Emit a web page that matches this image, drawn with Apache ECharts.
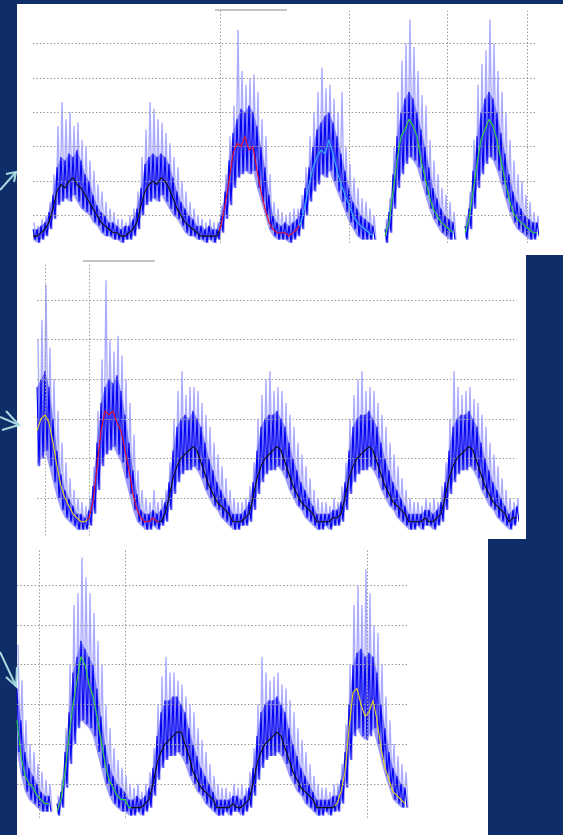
<!DOCTYPE html>
<html>
<head>
<meta charset="utf-8">
<script src="https://cdn.jsdelivr.net/npm/echarts@6/dist/echarts.min.js"></script>
<style>
html,body{margin:0;padding:0;background:#0f2d69;}
#c{width:563px;height:835px;}
</style>
</head>
<body>
<div id="c"></div>
<script>
// ---- Panel 1 (six daily cycles) ----
const p1Top = [6,6,7,8,11,16,24,27,26,28, 27,29,26,22,20,16,13,11,10,8, 8,7,6,7,7,9,12,18,25,27,
  28,27,28,27,25,21,17,14,12,10, 9,7,7,6,7,6,6,10,17,26, 34,38,41,40,42,40,36,30,24,16,
  10,8,7,8,7,8,9,12,18,24, 30,35,37,39,40,37,33,28,23,18, 14,12,10,9,8,7,null,null,6,11,
  22,33,40,44,46,44,40,35,30,24, 18,15,12,10,9,8,null,null,7,12, 23,33,40,44,46,44,40,34,28,22,
  17,14,12,10,9,8,8];
const p1Bot = [3,2,3,4,6,9,13,14,15,14, 16,14,12,11,10,8,7,5,4,4, 3,3,2,3,3,4,6,10,13,14,
  15,14,16,14,12,10,9,7,5,4, 4,3,3,2,3,2,3,5,9,13, 18,21,22,23,22,23,18,14,10,6,
  4,3,3,3,2,3,4,6,10,14, 17,19,22,21,23,20,17,14,11,8, 6,4,3,3,3,3,null,null,2,5,
  12,18,22,25,27,26,24,20,16,12, 9,7,5,4,3,3,null,null,3,6, 12,18,22,25,27,26,23,19,15,11,
  8,6,5,4,3,3,4];
const p1Spike = [8,7,9,10,14,22,36,43,38,40, 36,37,32,30,26,23,19,17,14,12, 11,9,9,8,10,12,17,27,35,43,
  41,38,37,34,31,27,24,20,17,14, 12,10,9,8,9,8,8,13,22,33, 42,64,52,48,50,51,46,38,33,22,
  14,12,11,10,11,12,12,16,24,33, 40,46,53,47,48,44,40,46,30,25, 21,18,15,14,12,10,null,null,9,15,
  30,46,55,60,67,59,52,45,42,32, 26,22,18,16,14,11,null,null,10,17, 32,48,54,58,67,60,52,46,40,32,
  26,22,20,16,14,11,10];
const p1Mean = [4,4,5,6,8,12,17,19,18,20, 21,19,18,16,14,12,10,8,7,6, 5,5,4,4,5,6,8,13,17,19,
  20,19,21,20,18,15,12,10,8,7, 6,5,4,4,4,4,4,7,13,20, 28,31,30,33,29,30,23,17,12,8,
  6,5,5,5,4,5,6,8,13,19, 24,27,29,28,32,28,23,19,16,13, 10,8,7,6,5,4,null,null,4,8,
  17,26,33,35,38,36,33,26,21,16, 12,10,8,7,6,5,null,null,5,9, 17,25,32,35,38,36,32,26,20,15,
  11,9,8,7,6,5,5];

// ---- Panel 2 ----
const p2Top = [38,40,42,38,30,22,16,12,10,8, 6,6,5,7,13,24,34,38,40,39, 41,37,31,24,17,11,7,6,6,7,
  6,7,9,14,22,28,30,31,30,32, 30,28,24,20,17,14,12,10,8,6, 6,6,7,9,14,22,28,30,31,31,
  32,30,28,24,20,17,14,12,10,8, 6,6,6,6,7,7,9,14,22,28, 30,31,31,32,30,28,24,20,17,14,
  12,10,8,6,6,6,6,7,7,6, 7,9,14,22,28,30,31,31,32,30, 28,24,20,17,14,12,10,8,6,7,8];
const p2Bot = [18,20,22,18,14,10,7,5,4,3, 2,2,2,3,6,12,18,21,22,23, 21,19,15,11,7,4,3,2,2,3,
  2,3,4,7,11,14,16,17,17,18, 17,15,12,10,8,7,5,4,3,2, 2,3,3,4,7,11,14,16,17,17,
  18,17,15,12,10,8,7,5,4,3, 2,2,3,2,3,3,4,7,11,14, 16,17,17,18,17,15,12,10,8,7,
  5,4,3,2,2,3,2,3,3,2, 3,4,7,11,14,16,17,17,18,17, 15,12,10,8,7,5,4,3,2,3,4];
const p2Spike = [50,55,64,48,40,32,24,19,15,12, 10,9,8,10,18,32,45,65,50,47, 51,46,40,34,26,17,12,10,9,12,
  9,10,12,19,30,37,42,36,38,38, 37,34,31,28,24,21,18,15,12,10, 9,9,10,13,19,30,36,40,42,37,
  38,37,34,31,28,24,21,18,15,12, 10,9,9,8,10,9,13,19,30,36, 40,42,37,38,37,34,31,28,24,21,
  18,15,12,10,9,9,8,10,9,10, 9,13,19,30,42,38,36,37,38,35, 34,31,28,24,21,18,15,12,10,9,10];
const p2Mean = [27,30,31,29,24,18,13,10,8,6, 5,4,4,5,9,18,27,32,31,32, 29,27,22,17,11,7,5,4,4,5,
  4,4,6,10,15,18,20,21,22,23, 22,19,16,13,11,9,8,7,6,4, 4,4,5,6,10,15,18,20,21,22,
  23,22,19,16,13,11,9,8,7,6, 4,4,4,4,5,5,6,10,15,18, 20,21,22,23,22,19,16,13,11,9,
  8,7,6,4,4,4,4,5,4,4, 5,6,10,15,18,20,21,22,23,22, 19,16,13,11,9,8,7,6,4,5,5];

// ---- Panel 3 ----
const p3Top = [34,26,18,14,12,10,8,7,7,null, 5,8,18,28,38,42,46,44,42,40, 34,27,20,15,12,10,9,8,6,6,
  7,6,7,9,14,22,28,31,31,32, 32,30,28,24,20,17,14,12,10,8, 6,6,6,6,7,7,6,7,9,14,
  22,28,30,31,31,32,30,28,24,20, 17,14,12,10,8,6,6,6,6,7, 7,11,18,30,40,43,44,42,43,42,
  38,30,24,18,14,12,10,9];
const p3Bot = [18,12,8,6,5,4,3,3,3,null, 2,4,9,15,20,24,26,25,24,22, 18,14,10,7,5,4,3,3,2,2,
  3,2,3,4,7,11,14,16,17,17, 18,17,15,12,10,8,7,5,4,3, 2,2,3,2,3,3,2,3,4,7,
  11,14,16,17,17,18,17,15,12,10, 8,7,5,4,3,2,2,3,2,3, 3,5,9,16,22,24,22,21,22,24,
  20,16,12,9,6,5,4,4];
const p3Spike = [45,36,26,20,18,15,13,11,10,null, 7,11,24,40,55,58,67,62,58,53, 46,40,30,24,19,16,14,12,10,9,
  10,8,10,13,19,30,37,42,38,38, 36,35,32,30,28,24,21,18,15,12, 10,9,9,8,10,9,10,9,13,19,
  30,42,38,36,37,38,35,34,31,28, 24,21,18,15,12,10,9,9,8,10, 10,15,25,40,55,60,55,64,58,50,
  48,40,32,26,20,17,15,13];
const p3Mean = [26,17,12,10,9,7,6,5,5,null, 3,6,13,22,30,36,42,40,35,32, 27,21,15,11,9,7,6,6,4,4,
  4,4,5,6,10,15,18,20,21,22, 23,23,20,17,13,11,9,8,7,6, 4,4,4,4,5,4,4,5,6,10,
  15,18,20,21,22,23,22,19,16,13, 11,9,8,7,6,4,4,4,4,4, 5,8,13,24,33,34,30,27,28,31,
  26,19,14,11,8,7,6,5];

const gridValues = [10,20,30,40,50,60];

const BLACK='#111111', RED='#e3102c', CYAN='#33b4ff', GREEN='#2fd43a', YELLOW='#e6d21c';

const panels = [
  {top:p1Top, bot:p1Bot, spk:p1Spike, mean:p1Mean, left:33, gtop:9.1, width:504, height:240.8, xmax:126,
   vlines:[46.75,79,103.5,123.5], vext:[2,69.5], seg:[45.5,63.5],
   pieces:[{lt:46.5,color:BLACK},{gte:46.5,lt:66.5,color:RED},{gte:66.5,lt:87,color:CYAN},{gte:87,color:GREEN}]},
  {top:p2Top, bot:p2Bot, spk:p2Spike, mean:p2Mean, left:37, gtop:260.4, width:480, height:277.2, xmax:120,
   vlines:[2,13], vext:[0.5,69], seg:[11.5,29.5],
   pieces:[{lt:12.5,color:YELLOW},{gte:12.5,lt:30.5,color:RED},{gte:30.5,color:BLACK}]},
  {top:p3Top, bot:p3Bot, spk:p3Spike, mean:p3Mean, left:17, gtop:545.5, width:392, height:278, xmax:98,
   vlines:[5.5,27,87.5], vext:[1.4,69], seg:null,
   pieces:[{lt:28.5,color:GREEN},{gte:28.5,lt:79.5,color:BLACK},{gte:79.5,color:YELLOW}]}
];

const nv = v => (v == null ? '-' : v);
function zig(a, b, off) {
  const out = [];
  a.forEach((v, i) => { out.push([i + off, nv(v)]); out.push([i + off + 0.5, nv(b[i])]); });
  return out;
}
// band quads: [i, bot_i, top_i, bot_i+1, top_i+1]
function quads(top, bot) {
  const out = [];
  for (let i = 0; i < top.length - 1; i++) {
    if (top[i] == null || top[i+1] == null) continue;
    out.push([i, bot[i], top[i], bot[i+1], top[i+1]]);
  }
  return out;
}
function renderBand(params, api) {
  const i = api.value(0);
  const p0 = api.coord([i, api.value(1)]);
  const p1 = api.coord([i, api.value(2)]);
  const p2 = api.coord([i + 1, api.value(4)]);
  const p3 = api.coord([i + 1, api.value(3)]);
  return {type:'polygon', shape:{points:[p0, p1, p2, p3]},
    style:{fill:'rgba(30,30,255,0.45)', stroke:null}};
}

const grid = [], xAxis = [], yAxis = [], series = [], visualMap = [];
panels.forEach((p, k) => {
  grid.push({left:p.left, top:p.gtop, width:p.width, height:p.height, containLabel:false});
  xAxis.push({type:'value', gridIndex:k, min:0, max:p.xmax, show:false});
  yAxis.push({type:'value', gridIndex:k, min:0, max:70, show:false, splitLine:{show:false}});
  const ml = gridValues.map(v => ({yAxis:v}));
  p.vlines.forEach(x => ml.push([{coord:[x, p.vext[0]]}, {coord:[x, p.vext[1]]}]));
  if (p.seg) ml.push([{coord:[p.seg[0], 69.8], lineStyle:{type:'solid', color:'#b0b0b0', width:1.5}}, {coord:[p.seg[1], 69.8]}]);
  const base = series.length;
  series.push({type:'line', xAxisIndex:k, yAxisIndex:k, data:[], z:1, silent:true,
    markLine:{silent:true, symbol:['none','none'], animation:false, label:{show:false},
      lineStyle:{type:[1.5,2], color:'#9a9a9a', width:1}, emphasis:{disabled:true}, data:ml}});
  // light spikes
  series.push({type:'line', xAxisIndex:k, yAxisIndex:k, data:zig(p.spk, p.bot, 0.25), z:2,
    showSymbol:false, silent:true, connectNulls:false,
    lineStyle:{color:'rgba(70,70,255,0.45)', width:1.4}});
  // band fill
  series.push({type:'custom', xAxisIndex:k, yAxisIndex:k, data:quads(p.top, p.bot), z:3,
    silent:true, renderItem:renderBand, encode:{x:0, y:[1,2]}});
  // band noise
  series.push({type:'line', xAxisIndex:k, yAxisIndex:k, data:zig(p.top, p.bot, 0), z:4,
    showSymbol:false, silent:true, connectNulls:false,
    lineStyle:{color:'#0000f0', width:1.1}});
  // mean
  series.push({type:'line', xAxisIndex:k, yAxisIndex:k, data:p.mean.map((v,i)=>[i, nv(v)]), z:5,
    showSymbol:false, silent:true, connectNulls:false,
    lineStyle:{width:1.1}});
  visualMap.push({type:'piecewise', show:false, dimension:0, seriesIndex:base+4, pieces:p.pieces});
});

const arrowColor = '#a6d9de';
const graphic = [
  {type:'rect', z:-10, silent:true, shape:{x:17, y:4, width:546, height:251}, style:{fill:'#ffffff'}},
  {type:'rect', z:-10, silent:true, shape:{x:17, y:255, width:509, height:284}, style:{fill:'#ffffff'}},
  {type:'rect', z:-10, silent:true, shape:{x:17, y:538, width:471, height:297}, style:{fill:'#ffffff'}},
  {type:'polyline', z:5, silent:true, shape:{points:[[0,190],[16,172]]}, style:{stroke:arrowColor, lineWidth:2, fill:null}},
  {type:'polyline', z:5, silent:true, shape:{points:[[6,174],[16,172],[14,182]]}, style:{stroke:arrowColor, lineWidth:2, fill:null}},
  {type:'polyline', z:5, silent:true, shape:{points:[[0,417],[19,425]]}, style:{stroke:arrowColor, lineWidth:2, fill:null}},
  {type:'polyline', z:5, silent:true, shape:{points:[[6,411],[19,425],[2,430]]}, style:{stroke:arrowColor, lineWidth:2, fill:null}},
  {type:'polyline', z:5, silent:true, shape:{points:[[0,652],[16,686]]}, style:{stroke:arrowColor, lineWidth:2, fill:null}},
  {type:'polyline', z:5, silent:true, shape:{points:[[6,677],[16,686],[17,667]]}, style:{stroke:arrowColor, lineWidth:2, fill:null}}
];

const chart = echarts.init(document.getElementById('c'), null, {renderer:'canvas'});
chart.setOption({
  backgroundColor:'#0f2d69',
  animation:false,
  grid, xAxis, yAxis, series, visualMap, graphic
});
</script>
</body>
</html>
